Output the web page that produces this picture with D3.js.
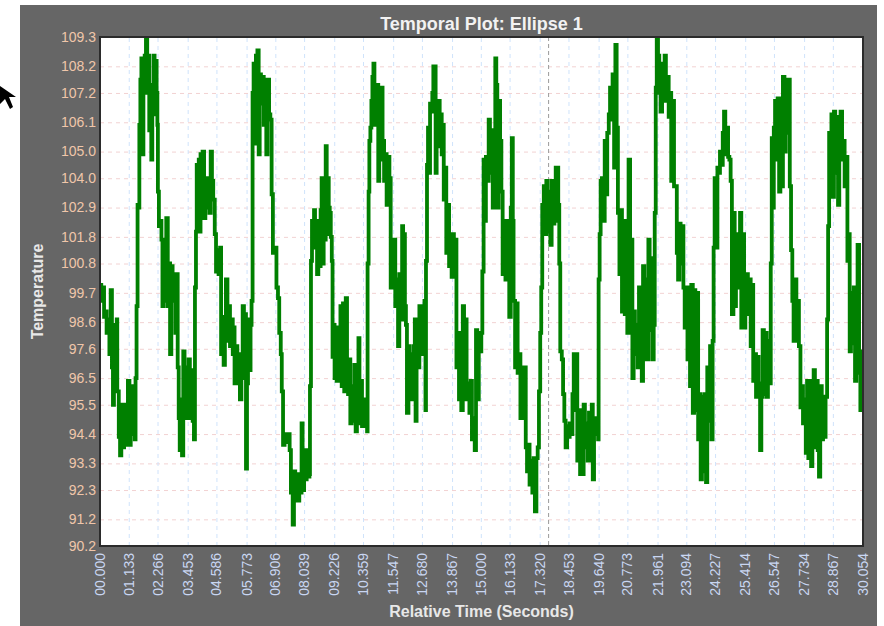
<!DOCTYPE html>
<html>
<head>
<meta charset="utf-8">
<script src="https://cdn.jsdelivr.net/npm/d3@7"></script>
<style>
    body { margin: 0; background: #ffffff; }
    svg { display: block; font-family: "Liberation Sans", Arial, sans-serif; }
</style>
</head>
<body>
<div id="temporal"></div>
<script>
// DATOS: [tiempo relativo (s), temperatura]
var samples = [
    [0.00, 100.0], [0.05, 99.4], [0.10, 99.9], [0.16, 98.8], [0.21, 99.0], [0.26, 98.2], [0.31, 98.7], [0.37, 97.4],
    [0.42, 99.8], [0.47, 96.9], [0.51, 95.5], [0.55, 98.2], [0.60, 98.5], [0.66, 98.7], [0.68, 96.0], [0.74, 94.3],
    [0.79, 93.6], [0.84, 95.5], [0.89, 93.9], [0.95, 95.5], [1.00, 94.0], [1.05, 95.4], [1.10, 96.4], [1.16, 94.0],
    [1.21, 95.9], [1.26, 94.4], [1.31, 96.2], [1.37, 94.2], [1.40, 96.5], [1.44, 99.2], [1.48, 103.0], [1.52, 102.9],
    [1.55, 106.0], [1.59, 107.7], [1.63, 108.5], [1.67, 104.9], [1.71, 107.9], [1.76, 108.6], [1.81, 109.3], [1.86, 107.2],
    [1.90, 108.6], [1.94, 105.8], [1.98, 107.5], [2.02, 104.7], [2.06, 107.5], [2.11, 108.6], [2.15, 106.4], [2.19, 108.4],
    [2.23, 107.2], [2.26, 106.0], [2.28, 103.5], [2.32, 102.2], [2.38, 102.4], [2.42, 101.7], [2.46, 99.2], [2.51, 100.9],
    [2.56, 99.4], [2.61, 102.5], [2.67, 99.2], [2.70, 100.8], [2.76, 97.4], [2.81, 100.7], [2.86, 99.4], [2.92, 100.4],
    [2.97, 98.2], [3.02, 100.4], [3.06, 96.9], [3.10, 95.0], [3.14, 93.8], [3.19, 95.7], [3.23, 93.6], [3.28, 97.5],
    [3.33, 95.0], [3.39, 96.9], [3.44, 95.2], [3.49, 97.2], [3.54, 95.0], [3.60, 96.8], [3.65, 94.9], [3.70, 94.2],
    [3.74, 99.9], [3.78, 102.0], [3.81, 104.5], [3.85, 102.5], [3.89, 104.7], [3.93, 102.0], [3.96, 104.9], [4.00, 103.2],
    [4.04, 105.0], [4.10, 102.5], [4.15, 103.4], [4.20, 102.9], [4.25, 104.0], [4.31, 102.7], [4.36, 105.0], [4.41, 103.9],
    [4.46, 103.2], [4.52, 101.9], [4.57, 100.5], [4.62, 101.3], [4.67, 100.4], [4.73, 101.4], [4.77, 97.4], [4.82, 98.8],
    [4.87, 97.0], [4.92, 98.5], [4.96, 100.2], [5.02, 97.9], [5.07, 99.2], [5.12, 97.7], [5.17, 98.7], [5.23, 97.4],
    [5.27, 98.4], [5.30, 96.3], [5.36, 97.7], [5.41, 96.9], [5.46, 97.4], [5.51, 95.7], [5.57, 96.5], [5.62, 99.2],
    [5.67, 96.8], [5.71, 98.9], [5.75, 93.1], [5.79, 96.3], [5.83, 98.7], [5.88, 96.8], [5.93, 98.5], [5.97, 99.4],
    [6.01, 107.2], [6.05, 108.3], [6.09, 105.3], [6.14, 108.6], [6.20, 108.8], [6.25, 104.9], [6.29, 107.9], [6.34, 106.8],
    [6.39, 107.8], [6.45, 106.0], [6.50, 107.4], [6.55, 104.9], [6.60, 107.7], [6.66, 106.4], [6.71, 106.2], [6.76, 103.4],
    [6.81, 101.2], [6.88, 101.4], [6.95, 99.9], [7.01, 99.5], [7.06, 98.2], [7.12, 97.4], [7.16, 96.0], [7.21, 94.0],
    [7.27, 94.4], [7.34, 94.1], [7.41, 94.4], [7.47, 93.8], [7.52, 92.2], [7.59, 91.0],
    [7.64, 93.0], [7.69, 91.9], [7.75, 92.9], [7.80, 91.9], [7.85, 92.8], [7.90, 92.2], [7.94, 94.8], [7.98, 92.3],
    [8.04, 93.8], [8.09, 92.7], [8.14, 93.8], [8.19, 92.8], [8.25, 92.9], [8.27, 96.2], [8.31, 100.9], [8.35, 102.4],
    [8.39, 101.4], [8.43, 102.8], [8.47, 101.4], [8.51, 102.4], [8.55, 100.4], [8.60, 101.2], [8.65, 100.7], [8.69, 102.8],
    [8.73, 104.0], [8.77, 100.8], [8.81, 104.0], [8.85, 101.7], [8.89, 105.2], [8.93, 101.9], [8.97, 104.0], [9.01, 102.9],
    [9.05, 102.7], [9.09, 101.8], [9.13, 100.9], [9.16, 97.3], [9.20, 98.5], [9.24, 96.5], [9.28, 98.4], [9.32, 96.4],
    [9.38, 98.4], [9.43, 96.9], [9.47, 99.2], [9.52, 96.2], [9.57, 99.3], [9.62, 96.0], [9.68, 99.5], [9.73, 97.0],
    [9.77, 95.9], [9.82, 97.2], [9.86, 94.8], [9.91, 96.2], [9.97, 94.9], [10.02, 97.0], [10.07, 94.5], [10.12, 96.2],
    [10.18, 98.0], [10.22, 94.8], [10.27, 96.4], [10.32, 94.7], [10.37, 95.7], [10.43, 94.7], [10.48, 94.8], [10.52, 94.5],
    [10.54, 100.8], [10.58, 103.5], [10.61, 105.4], [10.65, 105.9], [10.69, 106.9], [10.73, 107.8], [10.77, 108.3], [10.81, 106.0],
    [10.85, 107.4], [10.89, 106.2], [10.92, 107.5], [10.96, 103.9], [11.00, 106.9], [11.04, 104.7], [11.10, 107.4], [11.13, 105.4],
    [11.19, 103.9], [11.24, 104.9], [11.29, 103.0], [11.34, 104.8], [11.40, 104.0], [11.45, 99.9], [11.50, 101.7], [11.55, 100.8],
    [11.59, 101.7], [11.63, 99.2], [11.69, 100.2], [11.74, 97.7], [11.79, 100.4], [11.84, 98.7], [11.90, 102.2], [11.94, 100.4],
    [11.97, 101.9], [12.01, 99.2], [12.05, 98.5], [12.09, 95.2], [12.15, 97.7], [12.20, 96.4], [12.25, 97.4], [12.30, 95.7],
    [12.36, 97.7], [12.40, 98.7], [12.43, 94.9], [12.47, 98.4], [12.53, 96.9], [12.58, 99.2], [12.63, 97.4], [12.68, 98.7],
    [12.74, 97.4], [12.78, 99.4], [12.82, 95.3], [12.84, 100.9], [12.88, 104.5], [12.92, 105.9], [12.96, 104.2], [13.00, 106.8],
    [13.05, 106.5], [13.09, 107.2], [13.13, 108.2], [13.18, 108.2], [13.22, 104.2], [13.26, 106.9], [13.30, 105.2], [13.34, 106.9],
    [13.38, 105.3], [13.42, 106.4], [13.46, 104.9], [13.50, 106.0], [13.54, 103.2], [13.59, 104.4], [13.64, 101.2], [13.69, 103.0],
    [13.75, 100.7], [13.80, 101.4], [13.85, 100.3], [13.89, 101.9], [13.94, 100.5], [14.00, 101.7], [14.04, 96.9], [14.09, 98.2],
    [14.14, 95.7], [14.19, 97.4], [14.23, 95.3], [14.29, 99.2], [14.34, 96.2], [14.39, 98.7], [14.44, 95.7], [14.50, 96.3],
    [14.55, 95.2], [14.60, 96.4], [14.65, 94.2], [14.71, 95.0], [14.76, 93.8], [14.81, 98.3], [14.86, 95.7], [14.92, 98.2],
    [14.97, 97.5], [15.02, 98.2], [15.06, 100.5],
    [15.11, 104.7], [15.17, 102.4], [15.20, 104.8], [15.26, 103.9], [15.31, 106.2], [15.36, 104.2], [15.41, 105.8], [15.47, 102.9],
    [15.52, 105.7], [15.57, 108.5], [15.61, 107.5], [15.65, 102.9], [15.70, 106.9], [15.76, 105.4], [15.81, 103.5], [15.86, 100.4],
    [15.91, 102.4], [15.97, 100.2], [16.02, 102.4], [16.07, 100.4], [16.12, 98.8], [16.18, 102.9], [16.22, 105.5], [16.26, 102.4],
    [16.29, 99.4], [16.35, 96.9], [16.40, 99.3], [16.45, 96.7], [16.50, 97.4], [16.56, 95.0], [16.61, 96.9], [16.66, 95.0],
    [16.71, 96.9], [16.77, 93.9], [16.82, 93.0], [16.87, 94.0], [16.92, 92.5], [16.98, 93.4], [17.03, 92.2], [17.08, 93.5],
    [17.13, 91.5], [17.19, 93.5], [17.24, 93.9], [17.29, 96.0], [17.34, 98.2], [17.38, 99.9], [17.42, 103.0], [17.48, 103.7],
    [17.53, 101.9], [17.58, 103.9], [17.63, 102.0], [17.69, 103.5], [17.74, 101.5], [17.79, 103.9], [17.84, 102.3], [17.90, 102.4],
    [17.95, 104.4], [18.00, 104.4], [18.05, 103.0], [18.09, 100.8], [18.13, 97.5], [18.19, 97.2], [18.24, 95.9], [18.29, 94.9],
    [18.34, 93.9], [18.40, 94.7], [18.45, 94.3], [18.50, 94.8], [18.55, 94.4], [18.61, 95.9], [18.66, 97.4], [18.71, 95.3],
    [18.76, 97.4], [18.80, 93.4], [18.85, 95.3], [18.91, 92.9], [18.96, 95.0], [19.01, 92.9], [19.05, 95.5], [19.10, 93.9],
    [19.16, 94.8], [19.21, 93.4], [19.26, 95.2], [19.31, 93.9], [19.37, 95.5], [19.41, 92.7], [19.46, 94.8], [19.51, 94.4],
    [19.56, 95.0], [19.62, 94.2], [19.64, 100.2], [19.68, 101.9], [19.72, 103.9], [19.77, 104.0], [19.83, 102.4], [19.88, 105.4],
    [19.93, 103.4], [19.98, 105.7], [20.04, 106.4], [20.09, 107.4], [20.14, 106.2], [20.19, 107.9], [20.25, 104.4], [20.30, 109.0],
    [20.35, 105.9], [20.40, 102.7], [20.46, 100.4], [20.51, 102.8], [20.56, 99.0], [20.61, 102.4], [20.67, 98.9], [20.72, 101.8],
    [20.77, 98.2], [20.82, 104.7], [20.88, 98.9], [20.93, 101.7], [20.97, 96.5], [21.02, 99.0], [21.07, 97.4], [21.13, 98.5],
    [21.18, 96.9], [21.23, 99.9], [21.28, 97.2], [21.34, 96.4], [21.39, 100.7], [21.44, 97.2], [21.49, 100.2], [21.55, 97.2],
    [21.60, 101.7], [21.65, 98.3], [21.70, 101.0], [21.76, 97.2], [21.81, 98.5], [21.85, 102.7], [21.89, 107.4], [21.93, 109.3],
    [21.98, 108.6], [22.03, 107.2], [22.08, 106.5], [22.14, 108.3], [22.19, 107.5], [22.24, 108.6], [22.29, 106.9], [22.35, 107.8],
    [22.40, 106.3], [22.45, 107.2], [22.50, 103.9], [22.56, 106.9], [22.61, 103.7],
    [22.72, 101.2], [22.77, 100.2], [22.82, 102.3], [22.87, 100.8], [22.93, 102.2], [22.98, 99.9], [23.03, 98.4], [23.08, 99.9],
    [23.14, 97.2], [23.19, 99.4], [23.24, 96.2], [23.29, 100.0], [23.35, 95.2], [23.40, 99.8], [23.45, 95.3], [23.50, 99.7],
    [23.56, 94.2], [23.61, 95.9], [23.66, 92.7], [23.71, 95.8], [23.77, 93.0], [23.82, 95.9], [23.87, 92.6], [23.92, 96.9],
    [23.98, 94.9], [24.03, 97.7], [24.08, 94.2], [24.13, 97.9], [24.17, 101.4], [24.21, 104.0], [24.26, 101.4], [24.32, 104.4],
    [24.37, 104.2], [24.42, 105.0], [24.47, 104.5], [24.53, 105.7], [24.58, 106.5], [24.63, 104.9], [24.68, 105.9], [24.74, 104.8],
    [24.79, 104.7], [24.84, 103.9], [24.89, 98.9], [24.95, 102.7], [25.00, 99.2], [25.05, 101.9], [25.10, 100.8], [25.16, 99.9],
    [25.21, 102.7], [25.26, 98.4], [25.31, 101.9], [25.37, 98.4], [25.42, 99.7], [25.47, 100.4], [25.52, 98.9], [25.58, 100.2],
    [25.63, 97.7], [25.68, 100.0], [25.73, 96.4], [25.79, 97.4], [25.84, 95.8], [25.89, 97.3], [25.94, 96.3], [26.00, 93.8],
    [26.05, 95.8], [26.10, 98.3], [26.15, 95.9], [26.21, 98.2], [26.26, 95.8], [26.31, 97.9], [26.37, 96.3], [26.42, 100.8],
    [26.46, 105.5], [26.50, 102.9], [26.54, 105.9], [26.59, 106.9], [26.64, 104.7], [26.69, 107.0], [26.75, 103.5], [26.80, 105.2],
    [26.85, 103.7], [26.90, 107.8], [26.96, 105.0], [27.01, 107.7], [27.06, 105.7], [27.11, 107.7], [27.17, 103.7], [27.22, 101.3],
    [27.27, 99.4], [27.32, 97.9], [27.38, 100.2], [27.43, 98.2], [27.48, 99.4], [27.53, 97.7], [27.59, 95.4], [27.64, 96.2],
    [27.69, 94.8], [27.74, 95.7], [27.80, 93.7], [27.85, 96.4], [27.90, 93.5], [27.95, 96.4], [28.01, 93.2], [28.06, 95.7],
    [28.11, 96.8], [28.16, 93.9], [28.22, 96.4], [28.27, 93.8], [28.32, 92.8], [28.37, 96.2], [28.43, 94.2], [28.48, 95.7],
    [28.53, 94.3], [28.58, 95.8], [28.64, 98.7], [28.68, 102.2], [28.72, 105.7], [28.75, 103.4], [28.81, 106.4], [28.86, 103.3],
    [28.91, 106.5], [28.96, 104.2], [29.02, 106.3], [29.07, 103.0], [29.12, 105.9], [29.17, 106.5], [29.23, 104.7], [29.28, 105.4],
    [29.33, 103.7], [29.38, 104.8], [29.44, 100.9], [29.49, 101.9], [29.53, 97.5], [29.58, 99.7], [29.63, 97.8], [29.69, 99.9],
    [29.74, 96.4], [29.79, 99.7], [29.84, 101.5], [29.90, 96.7], [29.95, 95.3], [29.99, 97.5], [30.05, 95.3]
];

// ETIQUETAS DE LOS EJES
var yTickLabels = ['109.3', '108.2', '107.2', '106.1', '105.0', '104.0', '102.9', '101.8', '100.8', '99.7',
    '98.6', '97.6', '96.5', '95.5', '94.4', '93.3', '92.3', '91.2', '90.2'];
var xTickLabels = ['00.000', '01.133', '02.266', '03.453', '04.586', '05.773', '06.906', '08.039', '09.226',
    '10.359', '11.547', '12.680', '13.867', '15.000', '16.133', '17.320', '18.453', '19.640', '20.773',
    '21.961', '23.094', '24.227', '25.414', '26.547', '27.734', '28.867', '30.054'];
var crosshairTime = 17.67;   // linea vertical gris (cursor)

var chartTitle = 'Temporal Plot: Ellipse 1';
var xTitle = 'Relative Time (Seconds)';
var yTitle = 'Temperature';

// TAMAÑO
var width = 884;
var height = 626;
var plot = { left: 100, top: 37, right: 863, bottom: 546 };

var svg = d3.select('#temporal').append('svg')
    .attr('width', width)
    .attr('height', height);

// Panel gris de fondo
svg.append('rect')
    .attr('x', 20).attr('y', 5)
    .attr('width', 857).attr('height', height - 5)
    .attr('fill', '#666666');

// cursor del raton (flecha negra en el borde)
svg.append('path')
    .attr('d', 'M0,86 L0,104 L5,99 L10,109 L13,107 L9,97 L16,97 Z')
    .attr('fill', '#000');

// ---------ESCALAS------------
var scale_x = d3.scaleLinear()
    .domain([0, +xTickLabels[xTickLabels.length - 1]])
    .range([plot.left, plot.right]);

var scale_y = d3.scaleLinear()
    .domain([+yTickLabels[yTickLabels.length - 1], +yTickLabels[0]])
    .range([plot.bottom, plot.top]);

// area blanca del grafico
svg.append('rect')
    .attr('x', plot.left).attr('y', plot.top)
    .attr('width', plot.right - plot.left).attr('height', plot.bottom - plot.top)
    .attr('fill', '#ffffff');

// GRILLA horizontal (rosada) y vertical (celeste)
var grid = svg.append('g');
grid.append('g')
    .attr('transform', 'translate(' + plot.left + ',0)')
    .call(d3.axisLeft(scale_y).tickValues(yTickLabels.map(Number)).tickSize(-(plot.right - plot.left)).tickFormat(''))
    .call(function (g) { g.select('.domain').remove(); })
    .selectAll('line')
    .attr('stroke', '#f2d2d2')
    .attr('stroke-dasharray', '4,4');

grid.append('g')
    .attr('transform', 'translate(0,' + plot.bottom + ')')
    .call(d3.axisBottom(scale_x).tickValues(xTickLabels.map(Number)).tickSize(-(plot.bottom - plot.top)).tickFormat(''))
    .call(function (g) { g.select('.domain').remove(); })
    .selectAll('line')
    .attr('stroke', '#cfe3fb')
    .attr('stroke-dasharray', '4,4');

// linea del cursor
svg.append('line')
    .attr('x1', scale_x(crosshairTime)).attr('x2', scale_x(crosshairTime))
    .attr('y1', plot.top).attr('y2', plot.bottom)
    .attr('stroke', '#9a9a9a')
    .attr('stroke-dasharray', '4,3');

// Linea del grafico (escalonada, como la señal muestreada)
svg.append('clipPath').attr('id', 'clip')
    .append('rect')
    .attr('x', plot.left).attr('y', plot.top)
    .attr('width', plot.right - plot.left).attr('height', plot.bottom - plot.top);

var line = d3.line()
    .curve(d3.curveStepAfter)
    .x(function (d) { return scale_x(d[0]); })
    .y(function (d) { return scale_y(d[1]); });

svg.append('path')
    .attr('d', line(samples))
    .attr('clip-path', 'url(#clip)')
    .attr('fill', 'none')
    .attr('stroke', '#008000')
    .attr('stroke-width', 3.8)
    .attr('stroke-linejoin', 'miter');

// borde del grafico
svg.append('rect')
    .attr('x', plot.left).attr('y', plot.top)
    .attr('width', plot.right - plot.left).attr('height', plot.bottom - plot.top)
    .attr('fill', 'none')
    .attr('stroke', '#2b2b2b')
    .attr('stroke-width', 2);

// ETIQUETAS EJE Y
svg.append('g').selectAll('text')
    .data(yTickLabels)
    .enter().append('text')
    .attr('x', plot.left - 4)
    .attr('y', function (d) { return scale_y(+d); })
    .attr('dy', '0.35em')
    .attr('text-anchor', 'end')
    .attr('font-size', 14)
    .attr('fill', '#f0c6aa')
    .text(function (d) { return d; });

// ETIQUETAS EJE X (verticales)
svg.append('g').selectAll('text')
    .data(xTickLabels)
    .enter().append('text')
    .attr('transform', function (d) { return 'translate(' + scale_x(+d) + ',' + (plot.bottom + 7) + ') rotate(-90)'; })
    .attr('dy', '0.36em')
    .attr('text-anchor', 'end')
    .attr('font-size', 14)
    .attr('fill', '#c9d6f2')
    .text(function (d) { return d; });

// TITULOS
svg.append('text')
    .attr('x', (plot.left + plot.right) / 2)
    .attr('y', 30)
    .attr('text-anchor', 'middle')
    .attr('font-size', 18)
    .attr('font-weight', 'bold')
    .attr('fill', '#f2f2f2')
    .text(chartTitle);

svg.append('text')
    .attr('x', (plot.left + plot.right) / 2)
    .attr('y', 617)
    .attr('text-anchor', 'middle')
    .attr('font-size', 16)
    .attr('font-weight', 'bold')
    .attr('fill', '#e8e8e8')
    .text(xTitle);

svg.append('text')
    .attr('transform', 'translate(43,' + ((plot.top + plot.bottom) / 2) + ') rotate(-90)')
    .attr('text-anchor', 'middle')
    .attr('font-size', 16)
    .attr('font-weight', 'bold')
    .attr('fill', '#e8e8e8')
    .text(yTitle);
</script>
</body>
</html>
